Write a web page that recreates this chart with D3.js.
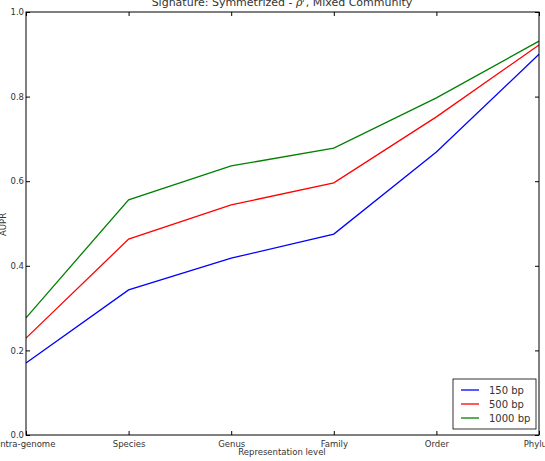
<!DOCTYPE html>
<html>
<head>
<meta charset="utf-8">
<script src="https://cdn.jsdelivr.net/npm/d3@7"></script>
<style>
  body { margin: 0; background: white; }
  text { font-family: "DejaVu Sans", sans-serif; fill: #333; }
</style>
</head>
<body>
<svg id="chart" width="545" height="461"></svg>
<script>
// categories and series
var levels = ['Intra-genome', 'Species', 'Genus', 'Family', 'Order', 'Phylum'];
var bp150 = [0.170, 0.343, 0.418, 0.475, 0.669, 0.900];
var bp500 = [0.229, 0.463, 0.544, 0.596, 0.752, 0.922];
var bp1000 = [0.277, 0.556, 0.636, 0.678, 0.797, 0.931];
var seriesNames = ['150 bp', '500 bp', '1000 bp'];
var seriesColors = ['#0000ff', '#ff0000', '#008000'];
var yTicks = [0.0, 0.2, 0.4, 0.6, 0.8, 1.0];

var series = [bp150, bp500, bp1000];

var svg = d3.select('#chart');
var pLeft = 26, pRight = 539, pTop = 12, pBottom = 435;

var x = d3.scalePoint().domain(levels).range([pLeft, pRight]);
var y = d3.scaleLinear().domain([0, 1]).range([pBottom, pTop]);

// title (partly cut off at top, as in the source)
var title = svg.append('text')
  .attr('x', 282)
  .attr('y', 6)
  .attr('text-anchor', 'middle')
  .style('font-size', '11px');
title.append('tspan').text('Signature: Symmetrized - ');
title.append('tspan').style('font-style', 'italic').style('font-family', 'DejaVu Serif').text('ρ');
title.append('tspan').attr('dy', -4).style('font-size', '8px').style('font-style', 'italic').text('r');
title.append('tspan').attr('dy', 4).text(', Mixed Community');

// lines
var line = d3.line()
  .x(function(d, i){ return x(levels[i]); })
  .y(function(d){ return y(d); });

series.forEach(function(s, i){
  svg.append('path')
    .datum(s)
    .attr('d', line)
    .attr('fill', 'none')
    .attr('stroke', seriesColors[i])
    .attr('stroke-width', 1.3);
});

// frame
svg.append('rect')
  .attr('x', pLeft).attr('y', pTop)
  .attr('width', pRight - pLeft).attr('height', pBottom - pTop)
  .attr('fill', 'none')
  .attr('stroke', '#000')
  .attr('stroke-width', 1);

// axes, ticks inside like matplotlib classic
var xAxis = svg.append('g')
  .attr('transform', 'translate(0,' + pBottom + ')')
  .call(d3.axisBottom(x).tickSizeInner(-4).tickSizeOuter(0).tickPadding(6));
var xTop = svg.append('g')
  .attr('transform', 'translate(0,' + pTop + ')')
  .call(d3.axisTop(x).tickSizeInner(-4).tickSizeOuter(0).tickFormat(''));
var yAxis = svg.append('g')
  .attr('transform', 'translate(' + pLeft + ',0)')
  .call(d3.axisLeft(y).tickValues(yTicks).tickFormat(d3.format('.1f')).tickSizeInner(-4).tickSizeOuter(0).tickPadding(2));
var yRight = svg.append('g')
  .attr('transform', 'translate(' + pRight + ',0)')
  .call(d3.axisRight(y).tickValues(yTicks).tickSizeInner(-4).tickSizeOuter(0).tickFormat(''));

[xAxis, xTop, yAxis, yRight].forEach(function(a){
  a.select('.domain').remove();
  a.selectAll('line').attr('stroke', '#000');
  a.selectAll('text').style('font-size', '8.5px').attr('fill', '#333')
    .style('font-family', '"DejaVu Sans", sans-serif');
});
xAxis.selectAll('text').attr('dy', '0.71em');

// axis labels
svg.append('text')
  .attr('x', 282)
  .attr('y', 455)
  .attr('text-anchor', 'middle')
  .style('font-size', '8.5px')
  .text('Representation level');
svg.append('text')
  .attr('transform', 'translate(6,' + ((pTop + pBottom) / 2 + 1) + ') rotate(-90)')
  .attr('text-anchor', 'middle')
  .style('font-size', '8.5px')
  .text('AUPR');

// legend
var lg = svg.append('g').attr('transform', 'translate(453,379)');
lg.append('rect')
  .attr('width', 83).attr('height', 50)
  .attr('fill', 'white')
  .attr('stroke', '#000')
  .attr('stroke-width', 0.8);
seriesNames.forEach(function(n, i){
  var yy = 11 + i * 14;
  lg.append('line')
    .attr('x1', 8).attr('x2', 26)
    .attr('y1', yy).attr('y2', yy)
    .attr('stroke', seriesColors[i])
    .attr('stroke-width', 1.3);
  lg.append('text')
    .attr('x', 36).attr('y', yy + 4)
    .style('font-size', '10px')
    .text(n);
});
</script>
</body>
</html>
